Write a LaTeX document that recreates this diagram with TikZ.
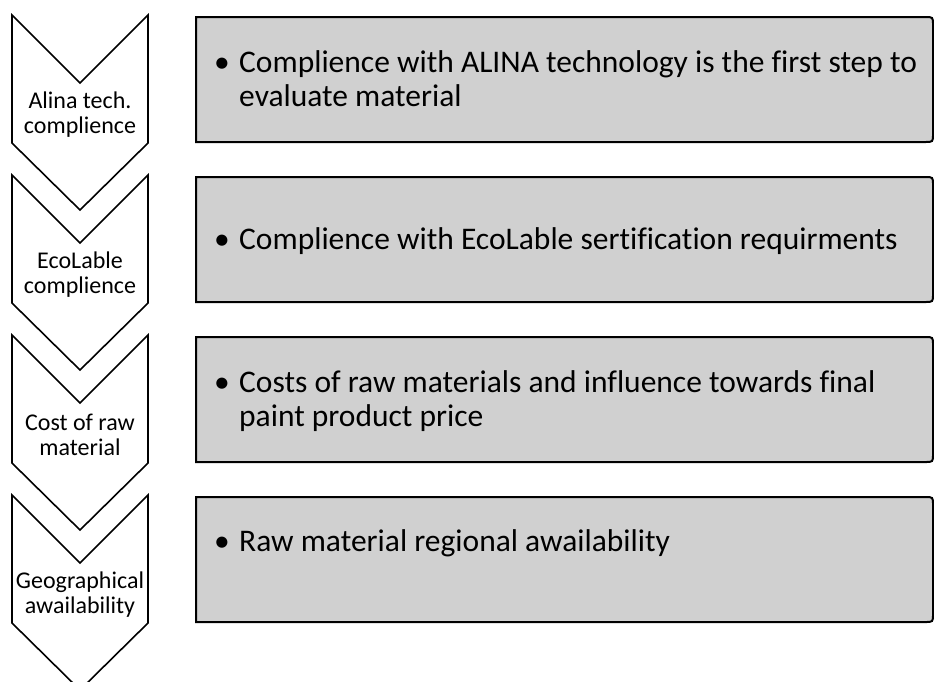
\documentclass[tikz,border=0pt]{standalone}
\usepackage{fontspec}
\setmainfont[RawFeature={-liga;-clig;-dlig}]{Carlito}
\definecolor{panelgray}{RGB}{208,208,208}
\begin{document}
\begin{tikzpicture}[x=1pt,y=-1pt,
  chevron/.style={draw=black,fill=white,line width=1.6pt,line join=miter},
  panel/.style={draw=black,fill=panelgray,line width=2pt,line join=miter},
  steplabel/.style={font=\fontsize{24}{25}\selectfont,align=center,inner sep=0pt},
  bulletmark/.style={font=\fontsize{31.5}{34}\selectfont,anchor=base,inner sep=0pt},
  panelnote/.style={font=\fontsize{31.5}{34}\selectfont,anchor=base west,inner sep=0pt}]
\useasboundingbox (0,0) rectangle (934,681);
\clip (0,0) rectangle (934,681);

% ---- down-pointing chevrons (top edge T, notch T+68, shoulder T+128, tip T+195)
\foreach \T in {15,175,335,495}{
  \draw[chevron] (12,\T) -- (80,\T+68) -- (148,\T) -- (148,\T+128)
                 -- (80,\T+195) -- (12,\T+128) -- cycle;
}
\node[steplabel] (s1) at (80,115) {Alina tech.\\complience};
\node[steplabel] (s2) at (80,275) {EcoLable\\complience};
\node[steplabel] (s3) at (80,435) {Cost of raw\\material};
\node[steplabel] (s4) at (80,595) {Geographical\\awailability};

% ---- text panels, square on the left, rounded on the right
\foreach \B in {17,177,337,497}{
  \draw[panel] (196,\B) -- (925,\B) .. controls (933,\B) .. (933,\B+8)
               -- (933,\B+117) .. controls (933,\B+125) .. (925,\B+125)
               -- (196,\B+125) -- cycle;
}
\node[bulletmark] (d1) at (222,72) {•};
\node[panelnote] (p1) at (239,72) {\begin{tabular}[t]{@{}l@{}}Complience with ALINA technology is the first step to\\evaluate material\end{tabular}};
\node[bulletmark] (d2) at (222,249) {•};
\node[panelnote] (p2) at (239,249) {Complience with EcoLable sertification requirments};
\node[bulletmark] (d3) at (222,392) {•};
\node[panelnote] (p3) at (239,392) {\begin{tabular}[t]{@{}l@{}}Costs of raw materials and influence towards final\\paint product price\end{tabular}};
\node[bulletmark] (d4) at (222,551) {•};
\node[panelnote] (p4) at (239,551) {Raw material regional awailability};
\end{tikzpicture}
\end{document}
